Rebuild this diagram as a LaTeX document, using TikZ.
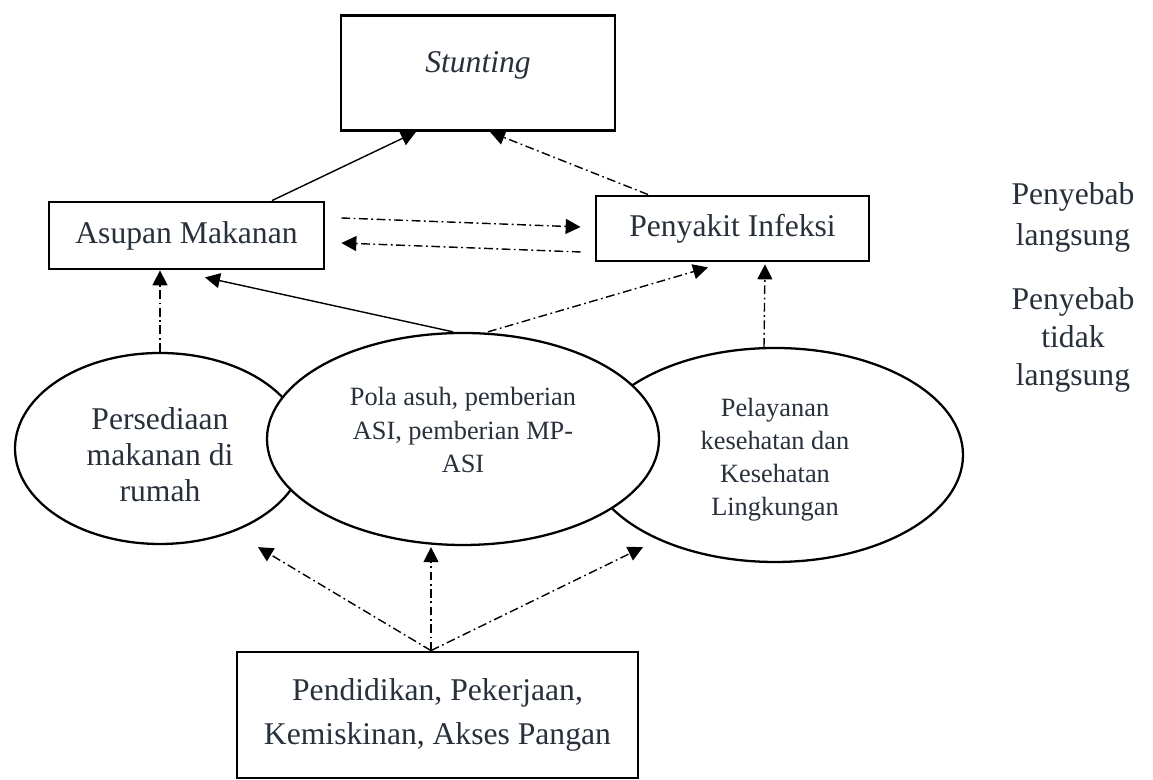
\documentclass[tikz,border=0pt]{standalone}
\usepackage{fontspec}
\setmainfont{Liberation Serif}
\usetikzlibrary{shapes.geometric, arrows.meta}
\definecolor{inkgray}{RGB}{40,48,60}
\tikzstyle{box} = [rectangle, draw=black, line width=1.6pt, fill=white, align=center, text=inkgray, inner sep=0, font=\fontsize{18}{25.5}\selectfont]
\tikzstyle{oval} = [ellipse, draw=black, line width=1.3pt, fill=white, align=center, text=inkgray, inner sep=0]
\tikzstyle{side} = [align=center, text=inkgray]
\tikzstyle{arrow} = [line width=0.8pt,->,>={Triangle[length=8.5pt,width=8.5pt]}]
\tikzstyle{ddline} = [dash pattern=on 5pt off 2pt on 1pt off 2pt]

\begin{document}
\begin{tikzpicture}
\useasboundingbox (0,0) rectangle (23.06,15.6);

% penyebab langsung
\node[box, minimum width=5.48cm, minimum height=2.3cm, text depth=13pt] (stunting) at (9.56,14.14) {\textit{Stunting}};
\node[box, minimum width=5.5cm, minimum height=1.34cm] (asupan) at (3.73,10.89) {Asupan Makanan};
\node[box, minimum width=5.46cm, minimum height=1.3cm] (infeksi) at (14.65,11.03) {Penyakit Infeksi};

% penyebab tidak langsung
\node[oval, minimum width=5.8cm, minimum height=3.82cm, text height=61pt, font=\fontsize{18}{20.5}\selectfont] (persediaan) at (3.2,6.63) {Persediaan\\makanan di\\rumah};
\node[oval, minimum width=7.52cm, minimum height=4.28cm, text height=72pt, font=\fontsize{15}{18.7}\selectfont] (pelayanan) at (15.5,6.5) {Pelayanan\\kesehatan dan\\Kesehatan\\Lingkungan};
\node[oval, minimum width=7.84cm, minimum height=4.24cm, text depth=10pt, font=\fontsize{15}{19}\selectfont] (pola) at (9.26,6.82) {Pola asuh, pemberian\\ASI, pemberian MP-\\ASI};

\node[box, minimum width=8.02cm, minimum height=2.52cm] (akar) at (8.75,1.3) {Pendidikan, Pekerjaan,\\Kemiskinan, Akses Pangan};

\node[side, font=\fontsize{18}{23}\selectfont] (langsung) at (21.46,11.25) {Penyebab\\langsung};
\node[side, font=\fontsize{18}{21.5}\selectfont] (tidaklangsung) at (21.46,8.8) {Penyebab\\tidak\\langsung};

% panah
\draw[arrow] ([xshift=1.71cm]asupan.north) -- ([xshift=-1.24cm]stunting.south);
\draw[arrow,ddline] ([xshift=-1.69cm]infeksi.north) -- ([xshift=0.24cm]stunting.south);
\draw[arrow,ddline] ([shift={(0.32,0.35)}]asupan.east) -- ([shift={(-0.28,0.03)}]infeksi.west);
\draw[arrow,ddline] ([shift={(-0.28,-0.47)}]infeksi.west) -- ([shift={(0.32,-0.15)}]asupan.east);
\draw[arrow,ddline] (persediaan.north) -- (persediaan.north |- asupan.south);
\draw[arrow] ([xshift=-0.2cm]pola.north) -- ([shift={(0.37,-0.14)}]asupan.south);
\draw[arrow,ddline] ([xshift=0.5cm]pola.north) -- ([shift={(-0.49,-0.1)}]infeksi.south);
\draw[arrow,ddline] ([xshift=-0.22cm]pelayanan.north) -- ([shift={(0.65,-0.04)}]infeksi.south);
\foreach \dx in {-4.1,-0.64,3.6}{
	\draw[arrow,ddline] ([xshift=-0.13cm]akar.north) -- ([shift={(\dx,-0.02)}]pola.south);}
\end{tikzpicture}
\end{document}
